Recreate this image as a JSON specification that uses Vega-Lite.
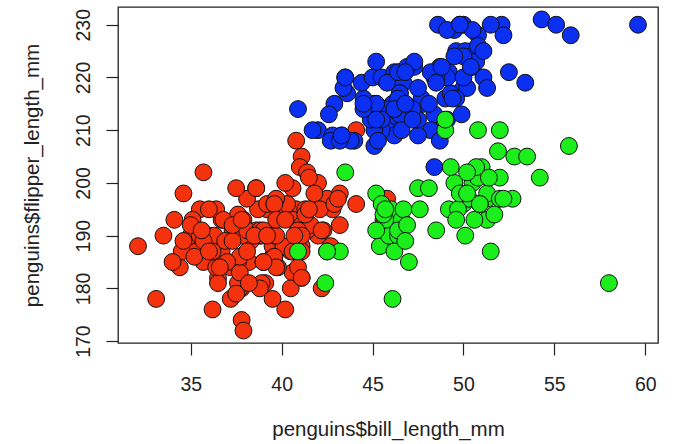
{
"$schema":"https://vega.github.io/schema/vega-lite/v6.json",
"width":540,"height":336,
"autosize":{"type":"none"},
"padding":{"left":118,"top":7,"right":19,"bottom":101},
"background":"white",
"config":{"view":{"stroke":"#222222","strokeWidth":1.3},"font":"Liberation Sans"},
"data":{"values":[
{"species":"Adelie","bill":39.1,"flipper":181},{"species":"Adelie","bill":39.5,"flipper":186},{"species":"Adelie","bill":40.3,"flipper":195},{"species":"Adelie","bill":36.7,"flipper":193},{"species":"Adelie","bill":39.3,"flipper":190},{"species":"Adelie","bill":38.9,"flipper":181},{"species":"Adelie","bill":39.2,"flipper":195},{"species":"Adelie","bill":34.1,"flipper":193},{"species":"Adelie","bill":42.0,"flipper":190},{"species":"Adelie","bill":37.8,"flipper":186},
{"species":"Adelie","bill":37.8,"flipper":180},{"species":"Adelie","bill":41.1,"flipper":182},{"species":"Adelie","bill":38.6,"flipper":191},{"species":"Adelie","bill":34.6,"flipper":198},{"species":"Adelie","bill":36.6,"flipper":185},{"species":"Adelie","bill":38.7,"flipper":195},{"species":"Adelie","bill":42.5,"flipper":197},{"species":"Adelie","bill":34.4,"flipper":184},{"species":"Adelie","bill":46.0,"flipper":194},{"species":"Adelie","bill":37.8,"flipper":174},
{"species":"Adelie","bill":37.7,"flipper":180},{"species":"Adelie","bill":35.9,"flipper":189},{"species":"Adelie","bill":38.2,"flipper":185},{"species":"Adelie","bill":38.8,"flipper":180},{"species":"Adelie","bill":35.3,"flipper":187},{"species":"Adelie","bill":40.6,"flipper":183},{"species":"Adelie","bill":40.5,"flipper":187},{"species":"Adelie","bill":37.9,"flipper":172},{"species":"Adelie","bill":40.5,"flipper":180},{"species":"Adelie","bill":39.5,"flipper":178},
{"species":"Adelie","bill":37.2,"flipper":178},{"species":"Adelie","bill":39.5,"flipper":188},{"species":"Adelie","bill":40.9,"flipper":184},{"species":"Adelie","bill":36.4,"flipper":195},{"species":"Adelie","bill":39.2,"flipper":196},{"species":"Adelie","bill":38.8,"flipper":190},{"species":"Adelie","bill":42.2,"flipper":180},{"species":"Adelie","bill":37.6,"flipper":181},{"species":"Adelie","bill":39.8,"flipper":184},{"species":"Adelie","bill":36.5,"flipper":182},
{"species":"Adelie","bill":40.8,"flipper":195},{"species":"Adelie","bill":36.0,"flipper":186},{"species":"Adelie","bill":44.1,"flipper":196},{"species":"Adelie","bill":37.0,"flipper":185},{"species":"Adelie","bill":39.6,"flipper":190},{"species":"Adelie","bill":41.1,"flipper":182},{"species":"Adelie","bill":37.5,"flipper":179},{"species":"Adelie","bill":36.0,"flipper":190},{"species":"Adelie","bill":42.3,"flipper":191},{"species":"Adelie","bill":39.6,"flipper":186},
{"species":"Adelie","bill":40.1,"flipper":188},{"species":"Adelie","bill":35.0,"flipper":190},{"species":"Adelie","bill":42.0,"flipper":200},{"species":"Adelie","bill":34.5,"flipper":187},{"species":"Adelie","bill":41.4,"flipper":191},{"species":"Adelie","bill":39.0,"flipper":185},{"species":"Adelie","bill":40.6,"flipper":193},{"species":"Adelie","bill":36.5,"flipper":181},{"species":"Adelie","bill":37.6,"flipper":194},{"species":"Adelie","bill":35.7,"flipper":185},
{"species":"Adelie","bill":41.3,"flipper":195},{"species":"Adelie","bill":37.6,"flipper":185},{"species":"Adelie","bill":41.1,"flipper":192},{"species":"Adelie","bill":36.4,"flipper":184},{"species":"Adelie","bill":41.6,"flipper":192},{"species":"Adelie","bill":35.5,"flipper":195},{"species":"Adelie","bill":41.1,"flipper":188},{"species":"Adelie","bill":35.9,"flipper":190},{"species":"Adelie","bill":41.8,"flipper":198},{"species":"Adelie","bill":33.5,"flipper":190},
{"species":"Adelie","bill":39.7,"flipper":190},{"species":"Adelie","bill":39.6,"flipper":196},{"species":"Adelie","bill":45.8,"flipper":197},{"species":"Adelie","bill":35.5,"flipper":190},{"species":"Adelie","bill":42.8,"flipper":195},{"species":"Adelie","bill":40.9,"flipper":191},{"species":"Adelie","bill":37.2,"flipper":184},{"species":"Adelie","bill":36.2,"flipper":187},{"species":"Adelie","bill":42.1,"flipper":195},{"species":"Adelie","bill":34.6,"flipper":189},
{"species":"Adelie","bill":42.9,"flipper":196},{"species":"Adelie","bill":36.7,"flipper":187},{"species":"Adelie","bill":35.1,"flipper":193},{"species":"Adelie","bill":37.3,"flipper":191},{"species":"Adelie","bill":41.3,"flipper":194},{"species":"Adelie","bill":36.3,"flipper":190},{"species":"Adelie","bill":36.9,"flipper":189},{"species":"Adelie","bill":38.3,"flipper":189},{"species":"Adelie","bill":38.9,"flipper":190},{"species":"Adelie","bill":35.7,"flipper":202},
{"species":"Adelie","bill":41.1,"flipper":205},{"species":"Adelie","bill":34.0,"flipper":185},{"species":"Adelie","bill":39.6,"flipper":186},{"species":"Adelie","bill":36.2,"flipper":187},{"species":"Adelie","bill":40.8,"flipper":208},{"species":"Adelie","bill":38.1,"flipper":190},{"species":"Adelie","bill":40.3,"flipper":196},{"species":"Adelie","bill":33.1,"flipper":178},{"species":"Adelie","bill":43.2,"flipper":192},{"species":"Adelie","bill":35.0,"flipper":192},
{"species":"Adelie","bill":41.0,"flipper":203},{"species":"Adelie","bill":37.7,"flipper":183},{"species":"Adelie","bill":37.8,"flipper":190},{"species":"Adelie","bill":37.9,"flipper":193},{"species":"Adelie","bill":39.7,"flipper":184},{"species":"Adelie","bill":38.6,"flipper":199},{"species":"Adelie","bill":38.2,"flipper":181},{"species":"Adelie","bill":38.1,"flipper":197},{"species":"Adelie","bill":43.2,"flipper":198},{"species":"Adelie","bill":38.1,"flipper":191},
{"species":"Adelie","bill":45.6,"flipper":193},{"species":"Adelie","bill":39.7,"flipper":197},{"species":"Adelie","bill":42.2,"flipper":191},{"species":"Adelie","bill":39.6,"flipper":196},{"species":"Adelie","bill":42.7,"flipper":188},{"species":"Adelie","bill":38.6,"flipper":199},{"species":"Adelie","bill":37.3,"flipper":189},{"species":"Adelie","bill":35.7,"flipper":189},{"species":"Adelie","bill":41.1,"flipper":187},{"species":"Adelie","bill":36.2,"flipper":176},
{"species":"Adelie","bill":37.7,"flipper":186},{"species":"Adelie","bill":40.2,"flipper":176},{"species":"Adelie","bill":41.4,"flipper":202},{"species":"Adelie","bill":35.2,"flipper":186},{"species":"Adelie","bill":40.6,"flipper":199},{"species":"Adelie","bill":38.8,"flipper":191},{"species":"Adelie","bill":41.5,"flipper":195},{"species":"Adelie","bill":39.0,"flipper":191},{"species":"Adelie","bill":44.1,"flipper":210},{"species":"Adelie","bill":38.5,"flipper":190},
{"species":"Adelie","bill":43.1,"flipper":197},{"species":"Adelie","bill":36.8,"flipper":193},{"species":"Adelie","bill":37.5,"flipper":199},{"species":"Adelie","bill":38.1,"flipper":187},{"species":"Adelie","bill":41.1,"flipper":190},{"species":"Adelie","bill":35.6,"flipper":191},{"species":"Adelie","bill":40.2,"flipper":200},{"species":"Adelie","bill":37.0,"flipper":185},{"species":"Adelie","bill":39.7,"flipper":193},{"species":"Adelie","bill":40.2,"flipper":193},
{"species":"Adelie","bill":40.6,"flipper":187},{"species":"Adelie","bill":32.1,"flipper":188},{"species":"Adelie","bill":40.7,"flipper":190},{"species":"Adelie","bill":37.3,"flipper":192},{"species":"Adelie","bill":39.0,"flipper":185},{"species":"Adelie","bill":39.2,"flipper":190},{"species":"Adelie","bill":36.6,"flipper":184},{"species":"Adelie","bill":36.0,"flipper":195},{"species":"Adelie","bill":37.8,"flipper":193},{"species":"Adelie","bill":36.0,"flipper":187},
{"species":"Adelie","bill":41.5,"flipper":201},
{"species":"Gentoo","bill":46.1,"flipper":211},{"species":"Gentoo","bill":50.0,"flipper":230},{"species":"Gentoo","bill":48.7,"flipper":210},{"species":"Gentoo","bill":50.0,"flipper":218},{"species":"Gentoo","bill":47.6,"flipper":215},{"species":"Gentoo","bill":46.5,"flipper":210},{"species":"Gentoo","bill":45.4,"flipper":211},{"species":"Gentoo","bill":46.7,"flipper":219},{"species":"Gentoo","bill":43.3,"flipper":209},{"species":"Gentoo","bill":46.8,"flipper":215},
{"species":"Gentoo","bill":40.9,"flipper":214},{"species":"Gentoo","bill":49.0,"flipper":216},{"species":"Gentoo","bill":45.5,"flipper":214},{"species":"Gentoo","bill":48.4,"flipper":213},{"species":"Gentoo","bill":45.8,"flipper":210},{"species":"Gentoo","bill":49.3,"flipper":217},{"species":"Gentoo","bill":42.0,"flipper":210},{"species":"Gentoo","bill":49.2,"flipper":221},{"species":"Gentoo","bill":46.2,"flipper":209},{"species":"Gentoo","bill":48.7,"flipper":222},
{"species":"Gentoo","bill":50.2,"flipper":218},{"species":"Gentoo","bill":45.1,"flipper":215},{"species":"Gentoo","bill":46.5,"flipper":213},{"species":"Gentoo","bill":46.3,"flipper":215},{"species":"Gentoo","bill":42.9,"flipper":215},{"species":"Gentoo","bill":46.1,"flipper":215},{"species":"Gentoo","bill":44.5,"flipper":216},{"species":"Gentoo","bill":47.8,"flipper":215},{"species":"Gentoo","bill":48.2,"flipper":210},{"species":"Gentoo","bill":50.0,"flipper":220},
{"species":"Gentoo","bill":47.3,"flipper":222},{"species":"Gentoo","bill":42.8,"flipper":209},{"species":"Gentoo","bill":45.1,"flipper":207},{"species":"Gentoo","bill":59.6,"flipper":230},{"species":"Gentoo","bill":49.1,"flipper":220},{"species":"Gentoo","bill":48.4,"flipper":220},{"species":"Gentoo","bill":42.6,"flipper":213},{"species":"Gentoo","bill":44.4,"flipper":219},{"species":"Gentoo","bill":44.0,"flipper":208},{"species":"Gentoo","bill":48.7,"flipper":208},
{"species":"Gentoo","bill":42.7,"flipper":208},{"species":"Gentoo","bill":49.6,"flipper":225},{"species":"Gentoo","bill":45.3,"flipper":210},{"species":"Gentoo","bill":49.6,"flipper":216},{"species":"Gentoo","bill":50.5,"flipper":222},{"species":"Gentoo","bill":43.6,"flipper":217},{"species":"Gentoo","bill":45.5,"flipper":210},{"species":"Gentoo","bill":50.5,"flipper":225},{"species":"Gentoo","bill":44.9,"flipper":213},{"species":"Gentoo","bill":45.2,"flipper":215},
{"species":"Gentoo","bill":46.6,"flipper":210},{"species":"Gentoo","bill":48.5,"flipper":220},{"species":"Gentoo","bill":45.1,"flipper":210},{"species":"Gentoo","bill":50.1,"flipper":225},{"species":"Gentoo","bill":46.5,"flipper":217},{"species":"Gentoo","bill":45.0,"flipper":220},{"species":"Gentoo","bill":43.8,"flipper":208},{"species":"Gentoo","bill":45.5,"flipper":220},{"species":"Gentoo","bill":43.2,"flipper":208},{"species":"Gentoo","bill":50.4,"flipper":224},
{"species":"Gentoo","bill":45.3,"flipper":208},{"species":"Gentoo","bill":46.2,"flipper":221},{"species":"Gentoo","bill":45.7,"flipper":214},{"species":"Gentoo","bill":54.3,"flipper":231},{"species":"Gentoo","bill":45.8,"flipper":219},{"species":"Gentoo","bill":49.8,"flipper":230},{"species":"Gentoo","bill":46.2,"flipper":214},{"species":"Gentoo","bill":49.5,"flipper":229},{"species":"Gentoo","bill":43.5,"flipper":220},{"species":"Gentoo","bill":50.7,"flipper":223},
{"species":"Gentoo","bill":47.7,"flipper":216},{"species":"Gentoo","bill":46.4,"flipper":221},{"species":"Gentoo","bill":48.2,"flipper":221},{"species":"Gentoo","bill":46.5,"flipper":217},{"species":"Gentoo","bill":46.4,"flipper":216},{"species":"Gentoo","bill":48.6,"flipper":230},{"species":"Gentoo","bill":47.5,"flipper":209},{"species":"Gentoo","bill":51.1,"flipper":220},{"species":"Gentoo","bill":45.2,"flipper":215},{"species":"Gentoo","bill":45.2,"flipper":223},
{"species":"Gentoo","bill":49.1,"flipper":212},{"species":"Gentoo","bill":52.5,"flipper":221},{"species":"Gentoo","bill":47.4,"flipper":212},{"species":"Gentoo","bill":50.0,"flipper":224},{"species":"Gentoo","bill":44.9,"flipper":212},{"species":"Gentoo","bill":50.8,"flipper":228},{"species":"Gentoo","bill":43.4,"flipper":218},{"species":"Gentoo","bill":51.3,"flipper":218},{"species":"Gentoo","bill":47.5,"flipper":212},{"species":"Gentoo","bill":52.1,"flipper":230},
{"species":"Gentoo","bill":47.5,"flipper":218},{"species":"Gentoo","bill":52.2,"flipper":228},{"species":"Gentoo","bill":45.5,"flipper":212},{"species":"Gentoo","bill":49.5,"flipper":224},{"species":"Gentoo","bill":44.5,"flipper":214},{"species":"Gentoo","bill":50.8,"flipper":226},{"species":"Gentoo","bill":49.4,"flipper":216},{"species":"Gentoo","bill":46.9,"flipper":222},{"species":"Gentoo","bill":48.4,"flipper":203},{"species":"Gentoo","bill":51.1,"flipper":225},
{"species":"Gentoo","bill":48.5,"flipper":219},{"species":"Gentoo","bill":55.9,"flipper":228},{"species":"Gentoo","bill":47.2,"flipper":214},{"species":"Gentoo","bill":49.1,"flipper":229},{"species":"Gentoo","bill":47.3,"flipper":223},{"species":"Gentoo","bill":46.8,"flipper":221},{"species":"Gentoo","bill":41.7,"flipper":210},{"species":"Gentoo","bill":53.4,"flipper":219},{"species":"Gentoo","bill":43.3,"flipper":209},{"species":"Gentoo","bill":48.1,"flipper":215},
{"species":"Gentoo","bill":50.5,"flipper":229},{"species":"Gentoo","bill":49.8,"flipper":230},{"species":"Gentoo","bill":43.5,"flipper":220},{"species":"Gentoo","bill":51.5,"flipper":230},{"species":"Gentoo","bill":46.2,"flipper":214},{"species":"Gentoo","bill":55.1,"flipper":230},{"species":"Gentoo","bill":44.5,"flipper":215},{"species":"Gentoo","bill":48.8,"flipper":222},{"species":"Gentoo","bill":47.2,"flipper":212},{"species":"Gentoo","bill":46.8,"flipper":215},
{"species":"Gentoo","bill":50.4,"flipper":222},{"species":"Gentoo","bill":45.2,"flipper":212},{"species":"Gentoo","bill":49.9,"flipper":213},
{"species":"Chinstrap","bill":46.5,"flipper":192},{"species":"Chinstrap","bill":50.0,"flipper":196},{"species":"Chinstrap","bill":51.3,"flipper":193},{"species":"Chinstrap","bill":45.4,"flipper":188},{"species":"Chinstrap","bill":52.7,"flipper":197},{"species":"Chinstrap","bill":45.2,"flipper":198},{"species":"Chinstrap","bill":46.1,"flipper":178},{"species":"Chinstrap","bill":51.3,"flipper":197},{"species":"Chinstrap","bill":46.0,"flipper":195},{"species":"Chinstrap","bill":51.3,"flipper":198},
{"species":"Chinstrap","bill":46.6,"flipper":193},{"species":"Chinstrap","bill":51.7,"flipper":194},{"species":"Chinstrap","bill":47.0,"flipper":185},{"species":"Chinstrap","bill":52.0,"flipper":201},{"species":"Chinstrap","bill":45.9,"flipper":190},{"species":"Chinstrap","bill":50.5,"flipper":201},{"species":"Chinstrap","bill":50.3,"flipper":197},{"species":"Chinstrap","bill":58.0,"flipper":181},{"species":"Chinstrap","bill":46.4,"flipper":190},{"species":"Chinstrap","bill":49.2,"flipper":195},
{"species":"Chinstrap","bill":42.4,"flipper":181},{"species":"Chinstrap","bill":48.5,"flipper":191},{"species":"Chinstrap","bill":43.2,"flipper":187},{"species":"Chinstrap","bill":50.6,"flipper":193},{"species":"Chinstrap","bill":46.7,"flipper":195},{"species":"Chinstrap","bill":52.0,"flipper":197},{"species":"Chinstrap","bill":50.5,"flipper":200},{"species":"Chinstrap","bill":49.5,"flipper":200},{"species":"Chinstrap","bill":46.4,"flipper":191},{"species":"Chinstrap","bill":52.8,"flipper":205},
{"species":"Chinstrap","bill":40.9,"flipper":187},{"species":"Chinstrap","bill":54.2,"flipper":201},{"species":"Chinstrap","bill":42.5,"flipper":187},{"species":"Chinstrap","bill":51.0,"flipper":203},{"species":"Chinstrap","bill":49.7,"flipper":195},{"species":"Chinstrap","bill":47.5,"flipper":199},{"species":"Chinstrap","bill":47.6,"flipper":195},{"species":"Chinstrap","bill":52.0,"flipper":210},{"species":"Chinstrap","bill":46.9,"flipper":192},{"species":"Chinstrap","bill":53.5,"flipper":205},
{"species":"Chinstrap","bill":49.0,"flipper":210},{"species":"Chinstrap","bill":46.2,"flipper":187},{"species":"Chinstrap","bill":50.9,"flipper":196},{"species":"Chinstrap","bill":45.5,"flipper":196},{"species":"Chinstrap","bill":50.9,"flipper":196},{"species":"Chinstrap","bill":50.8,"flipper":201},{"species":"Chinstrap","bill":50.1,"flipper":190},{"species":"Chinstrap","bill":49.0,"flipper":212},{"species":"Chinstrap","bill":51.5,"flipper":187},{"species":"Chinstrap","bill":49.8,"flipper":198},
{"species":"Chinstrap","bill":48.1,"flipper":199},{"species":"Chinstrap","bill":51.4,"flipper":201},{"species":"Chinstrap","bill":45.7,"flipper":193},{"species":"Chinstrap","bill":50.7,"flipper":203},{"species":"Chinstrap","bill":42.5,"flipper":187},{"species":"Chinstrap","bill":52.2,"flipper":197},{"species":"Chinstrap","bill":45.2,"flipper":191},{"species":"Chinstrap","bill":49.3,"flipper":203},{"species":"Chinstrap","bill":50.2,"flipper":202},{"species":"Chinstrap","bill":45.6,"flipper":194},
{"species":"Chinstrap","bill":51.9,"flipper":206},{"species":"Chinstrap","bill":46.8,"flipper":189},{"species":"Chinstrap","bill":45.7,"flipper":195},{"species":"Chinstrap","bill":55.8,"flipper":207},{"species":"Chinstrap","bill":43.5,"flipper":202},{"species":"Chinstrap","bill":49.6,"flipper":193},{"species":"Chinstrap","bill":50.8,"flipper":210},{"species":"Chinstrap","bill":50.2,"flipper":198}
]},
"mark":{"type":"circle","size":285,"opacity":1,"stroke":"#111111","strokeWidth":1},
"encoding":{
 "x":{"field":"bill","type":"quantitative","scale":{"domain":[31.0,60.7],"nice":false,"zero":false},
  "axis":{"title":"penguins$bill_length_mm","values":[35,40,45,50,55,60],"domain":false,"grid":false,"tickSize":12,"tickColor":"#222222","tickWidth":1.2,"labelFontSize":19.5,"labelColor":"#222222","labelBaseline":"alphabetic","labelPadding":35,"labelOverlap":false,"titleFontSize":20.5,"titleFontWeight":"normal","titleColor":"#222222","titleBaseline":"alphabetic","titleY":92}},
 "y":{"field":"flipper","type":"quantitative","scale":{"domain":[169.64,233.36],"nice":false,"zero":false},
  "axis":{"title":"penguins$flipper_length_mm","values":[170,180,190,200,210,220,230],"domain":false,"grid":false,"tickSize":12,"tickColor":"#222222","tickWidth":1.2,"labelFontSize":19.5,"labelColor":"#222222","labelAngle":-90,"labelAlign":"center","labelBaseline":"alphabetic","labelPadding":17,"labelOverlap":false,"titleFontSize":20.5,"titleFontWeight":"normal","titleColor":"#222222","titleAngle":-90,"titleAlign":"center","titleBaseline":"alphabetic","titleX":-80,"titleY":168}},
 "color":{"field":"species","type":"nominal","scale":{"domain":["Adelie","Gentoo","Chinstrap"],"range":["#F4330E","#0B30F2","#1CEE1C"]},"legend":null}
}
}
